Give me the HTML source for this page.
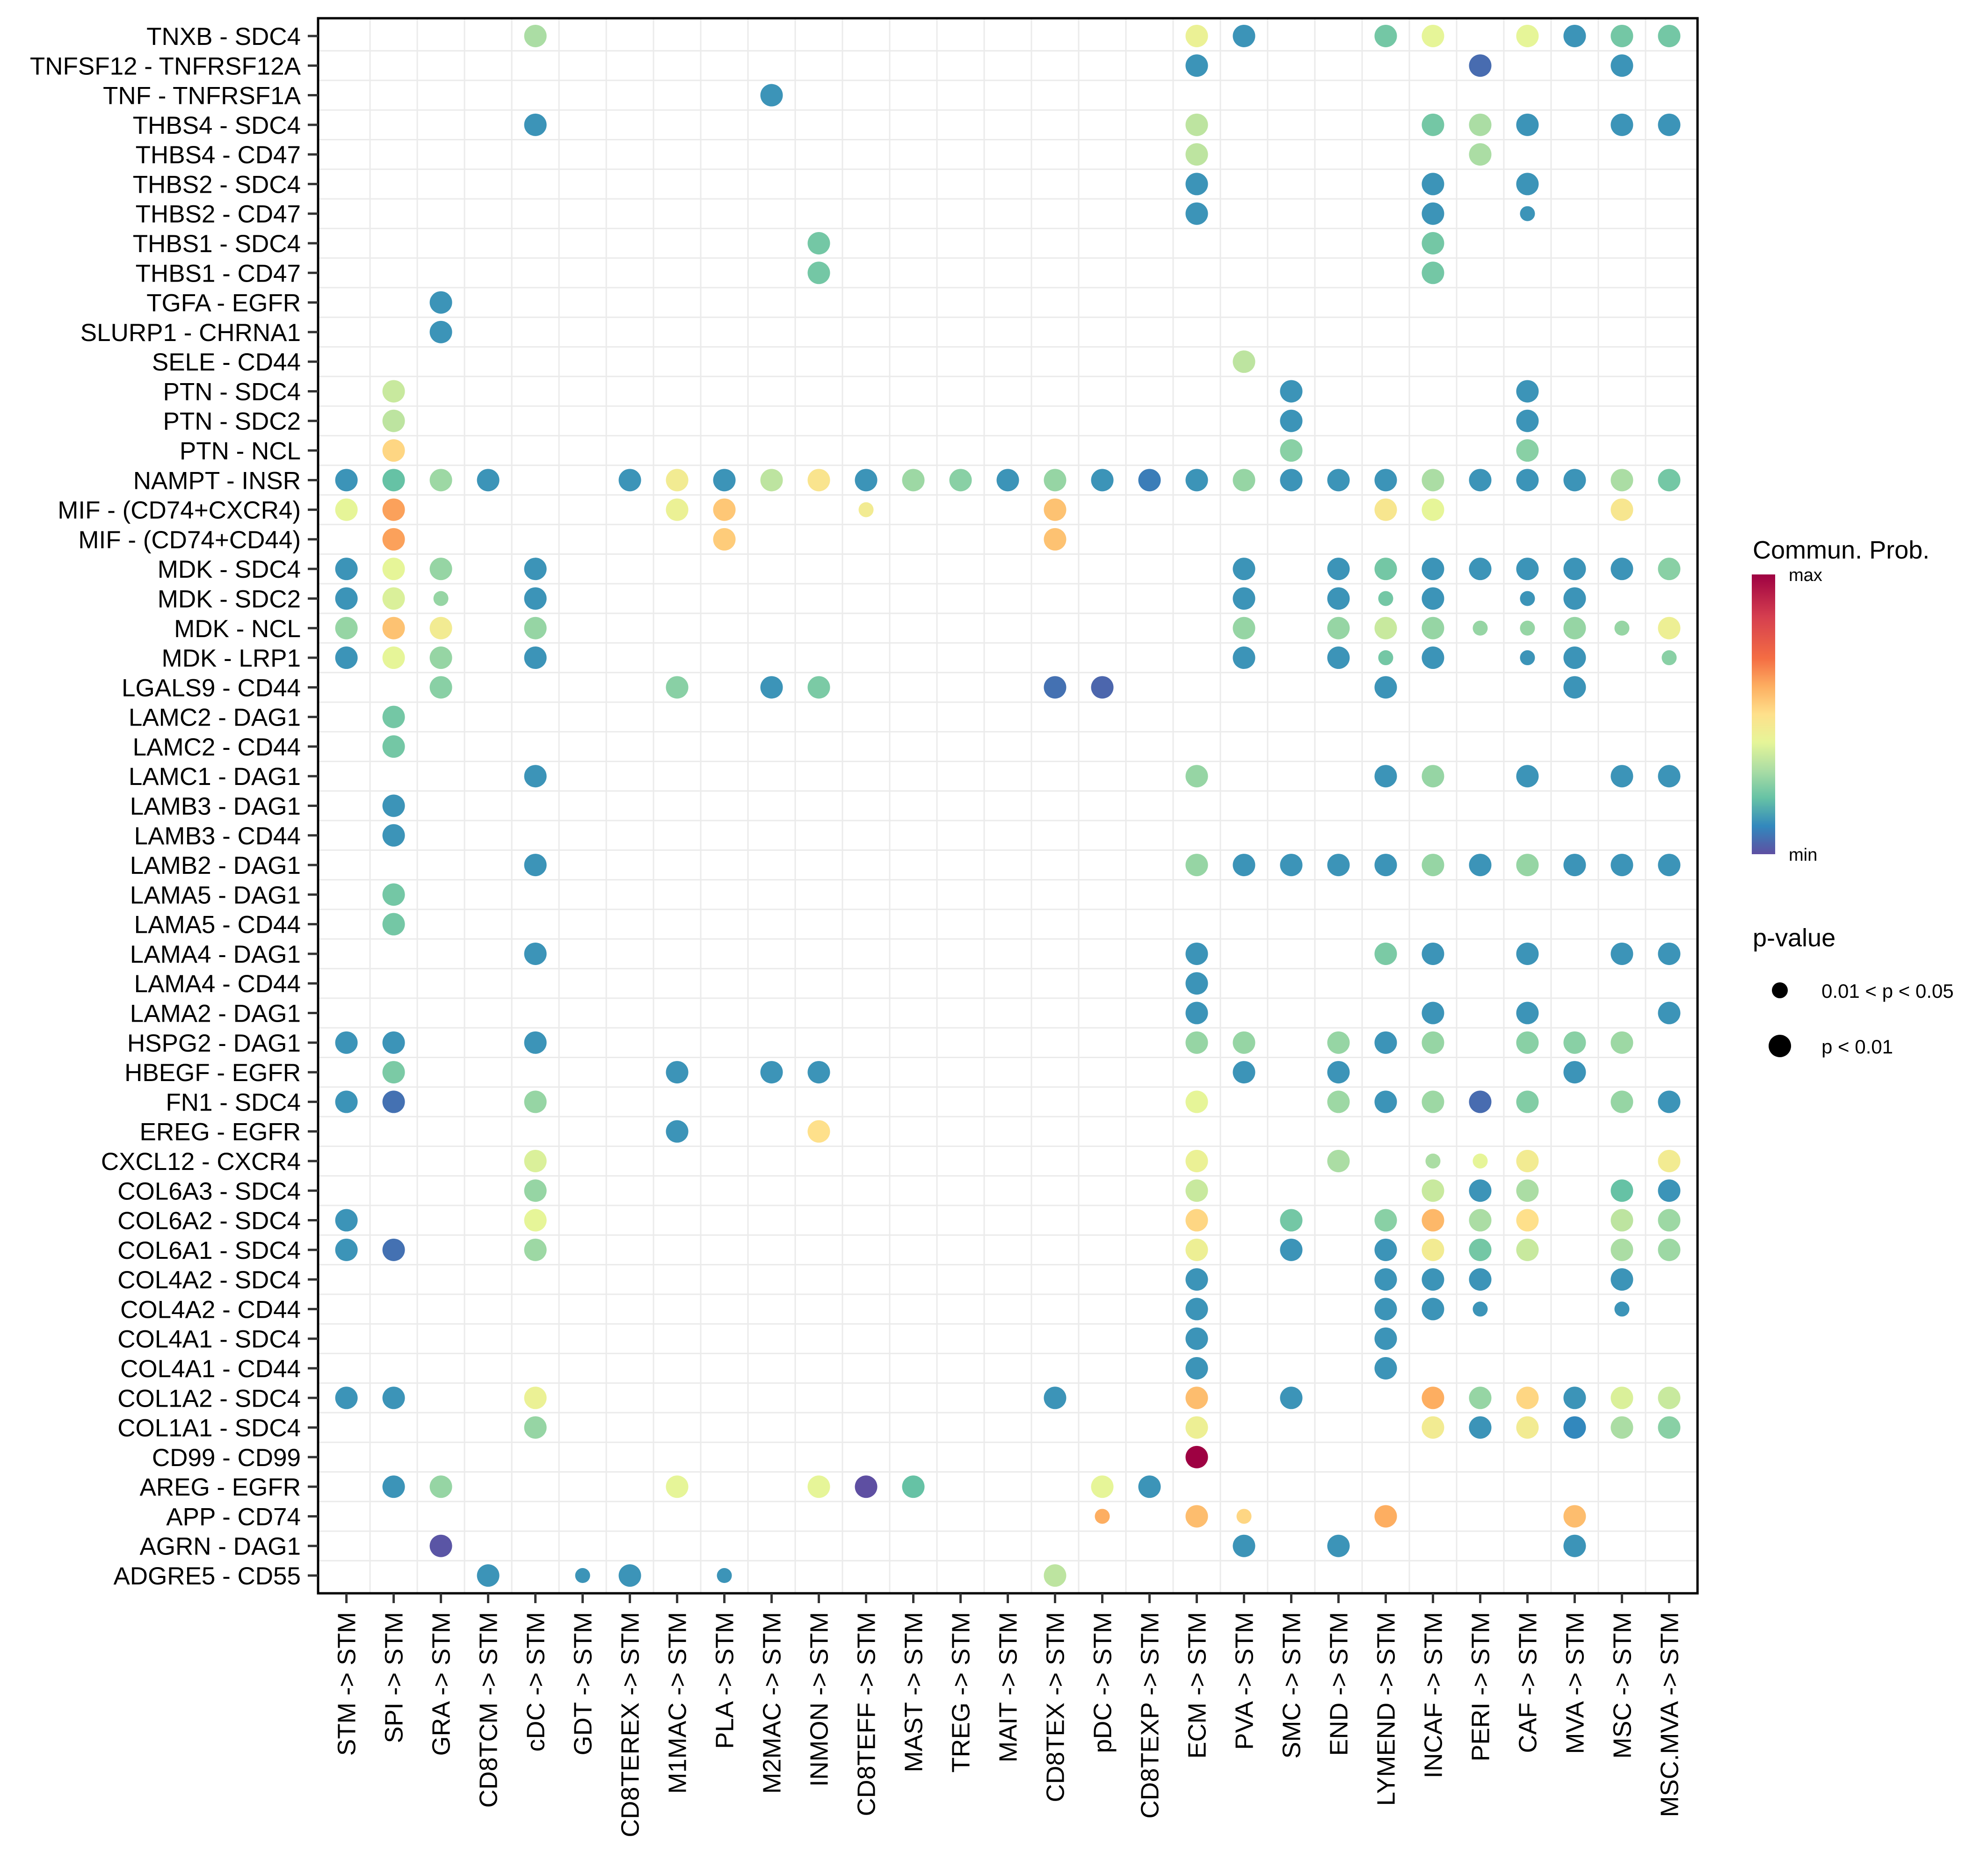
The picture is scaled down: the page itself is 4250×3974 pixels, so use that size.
<!DOCTYPE html>
<html><head><meta charset="utf-8"><style>html,body{margin:0;padding:0;background:#fff}svg{display:block}</style></head>
<body>
<svg id="chart" xmlns="http://www.w3.org/2000/svg" width="4250" height="3974" viewBox="0 0 4250 3974" font-family="Liberation Sans, Arial, sans-serif">
<rect x="0" y="0" width="4250" height="3974" fill="#fff"/>
<g id="grid"></g>
<g id="dots"></g>
<rect x="680" y="39" width="2949" height="3367" fill="none" stroke="#000" stroke-width="5"/>
<g id="yaxis"></g>
<g id="xaxis"></g>
<g>
<defs><linearGradient id="spec" x1="0" y1="1" x2="0" y2="0">
<stop offset="0" stop-color="#5E4FA2"/><stop offset="0.1" stop-color="#3288BD"/><stop offset="0.2" stop-color="#66C2A5"/><stop offset="0.3" stop-color="#ABDDA4"/><stop offset="0.4" stop-color="#E6F598"/><stop offset="0.5" stop-color="#FEE08B"/><stop offset="0.6" stop-color="#FDAE61"/><stop offset="0.7" stop-color="#F46D43"/><stop offset="0.85" stop-color="#D53E4F"/><stop offset="1" stop-color="#9E0142"/></linearGradient></defs>
<text x="3747" y="1194" font-size="54">Commun. Prob.</text>
<rect x="3745" y="1228" width="50" height="598" fill="url(#spec)"/>
<text x="3824" y="1242" font-size="38">max</text>
<text x="3824" y="1840" font-size="38">min</text>
</g>
<g>
<text x="3747" y="2023" font-size="54">p-value</text>
<circle cx="3805" cy="2117" r="17" fill="#000"/>
<text x="3894" y="2133" font-size="42">0.01 &lt; p &lt; 0.05</text>
<circle cx="3805" cy="2236" r="24" fill="#000"/>
<text x="3894" y="2252" font-size="42">p &lt; 0.01</text>
</g>
</svg>
<script>
const rowLabels = ["TNXB - SDC4","TNFSF12 - TNFRSF12A","TNF - TNFRSF1A","THBS4 - SDC4","THBS4 - CD47","THBS2 - SDC4","THBS2 - CD47","THBS1 - SDC4","THBS1 - CD47","TGFA - EGFR","SLURP1 - CHRNA1","SELE - CD44","PTN - SDC4","PTN - SDC2","PTN - NCL","NAMPT - INSR","MIF - (CD74+CXCR4)","MIF - (CD74+CD44)","MDK - SDC4","MDK - SDC2","MDK - NCL","MDK - LRP1","LGALS9 - CD44","LAMC2 - DAG1","LAMC2 - CD44","LAMC1 - DAG1","LAMB3 - DAG1","LAMB3 - CD44","LAMB2 - DAG1","LAMA5 - DAG1","LAMA5 - CD44","LAMA4 - DAG1","LAMA4 - CD44","LAMA2 - DAG1","HSPG2 - DAG1","HBEGF - EGFR","FN1 - SDC4","EREG - EGFR","CXCL12 - CXCR4","COL6A3 - SDC4","COL6A2 - SDC4","COL6A1 - SDC4","COL4A2 - SDC4","COL4A2 - CD44","COL4A1 - SDC4","COL4A1 - CD44","COL1A2 - SDC4","COL1A1 - SDC4","CD99 - CD99","AREG - EGFR","APP - CD74","AGRN - DAG1","ADGRE5 - CD55"];
const colLabels = ["STM","SPI","GRA","CD8TCM","cDC","GDT","CD8TEREX","M1MAC","PLA","M2MAC","INMON","CD8TEFF","MAST","TREG","MAIT","CD8TEX","pDC","CD8TEXP","ECM","PVA","SMC","END","LYMEND","INCAF","PERI","CAF","MVA","MSC","MSC.MVA"].map(s=>s+" -> STM");
// [row, col, probability(0-1 scaled), significant p<0.01 (1) or 0.01<p<0.05 (0)]
const dotData = [
[0,4,.3,1],[0,18,.42,1],[0,19,.12,1],[0,22,.22,1],[0,23,.4,1],[0,25,.4,1],[0,26,.12,1],[0,27,.22,1],[0,28,.22,1],
[1,18,.12,1],[1,24,.05,1],[1,27,.12,1],
[2,9,.12,1],
[3,4,.12,1],[3,18,.33,1],[3,23,.22,1],[3,24,.3,1],[3,25,.12,1],[3,27,.12,1],[3,28,.12,1],
[4,18,.33,1],[4,24,.3,1],
[5,18,.12,1],[5,23,.12,1],[5,25,.12,1],
[6,18,.12,1],[6,23,.12,1],[6,25,.12,0],
[7,10,.22,1],[7,23,.22,1],
[8,10,.22,1],[8,23,.22,1],
[9,2,.12,1],[10,2,.12,1],[11,19,.33,1],
[12,1,.35,1],[12,20,.12,1],[12,25,.12,1],
[13,1,.33,1],[13,20,.12,1],[13,25,.12,1],
[14,1,.52,1],[14,20,.25,1],[14,25,.25,1],
[15,0,.12,1],[15,1,.2,1],[15,2,.28,1],[15,3,.12,1],[15,6,.12,1],[15,7,.45,1],[15,8,.12,1],[15,9,.33,1],[15,10,.48,1],[15,11,.12,1],[15,12,.28,1],[15,13,.25,1],[15,14,.12,1],[15,15,.27,1],[15,16,.12,1],[15,17,.08,1],[15,18,.12,1],[15,19,.27,1],[15,20,.12,1],[15,21,.12,1],[15,22,.12,1],[15,23,.3,1],[15,24,.12,1],[15,25,.12,1],[15,26,.12,1],[15,27,.3,1],[15,28,.22,1],
[16,0,.4,1],[16,1,.62,1],[16,7,.42,1],[16,8,.55,1],[16,11,.45,0],[16,15,.56,1],[16,22,.47,1],[16,23,.4,1],[16,27,.47,1],
[17,1,.62,1],[17,8,.54,1],[17,15,.56,1],
[18,0,.12,1],[18,1,.4,1],[18,2,.27,1],[18,4,.12,1],[18,19,.12,1],[18,21,.12,1],[18,22,.22,1],[18,23,.12,1],[18,24,.12,1],[18,25,.12,1],[18,26,.12,1],[18,27,.12,1],[18,28,.25,1],
[19,0,.12,1],[19,1,.38,1],[19,2,.27,0],[19,4,.12,1],[19,19,.12,1],[19,21,.12,1],[19,22,.22,0],[19,23,.12,1],[19,25,.12,0],[19,26,.12,1],
[20,0,.27,1],[20,1,.56,1],[20,2,.45,1],[20,4,.27,1],[20,19,.27,1],[20,21,.27,1],[20,22,.35,1],[20,23,.27,1],[20,24,.27,0],[20,25,.27,0],[20,26,.27,1],[20,27,.27,0],[20,28,.43,1],
[21,0,.12,1],[21,1,.4,1],[21,2,.27,1],[21,4,.12,1],[21,19,.12,1],[21,21,.12,1],[21,22,.22,0],[21,23,.12,1],[21,25,.12,0],[21,26,.12,1],[21,28,.25,0],
[22,2,.25,1],[22,7,.25,1],[22,9,.12,1],[22,10,.23,1],[22,15,.06,1],[22,16,.04,1],[22,22,.12,1],[22,26,.12,1],
[23,1,.22,1],[24,1,.22,1],
[25,4,.12,1],[25,18,.27,1],[25,22,.12,1],[25,23,.27,1],[25,25,.12,1],[25,27,.12,1],[25,28,.12,1],
[26,1,.12,1],[27,1,.12,1],
[28,4,.12,1],[28,18,.27,1],[28,19,.12,1],[28,20,.12,1],[28,21,.12,1],[28,22,.12,1],[28,23,.27,1],[28,24,.12,1],[28,25,.27,1],[28,26,.12,1],[28,27,.12,1],[28,28,.12,1],
[29,1,.22,1],[30,1,.22,1],
[31,4,.12,1],[31,18,.12,1],[31,22,.23,1],[31,23,.12,1],[31,25,.12,1],[31,27,.12,1],[31,28,.12,1],
[32,18,.12,1],
[33,18,.12,1],[33,23,.12,1],[33,25,.12,1],[33,28,.12,1],
[34,0,.12,1],[34,1,.12,1],[34,4,.12,1],[34,18,.27,1],[34,19,.27,1],[34,21,.27,1],[34,22,.12,1],[34,23,.27,1],[34,25,.25,1],[34,26,.25,1],[34,27,.28,1],
[35,1,.23,1],[35,7,.12,1],[35,9,.12,1],[35,10,.12,1],[35,19,.12,1],[35,21,.12,1],[35,26,.12,1],
[36,0,.12,1],[36,1,.06,1],[36,4,.27,1],[36,18,.4,1],[36,21,.28,1],[36,22,.12,1],[36,23,.28,1],[36,24,.05,1],[36,25,.24,1],[36,27,.27,1],[36,28,.12,1],
[37,7,.12,1],[37,10,.5,1],
[38,4,.38,1],[38,18,.42,1],[38,21,.3,1],[38,23,.3,0],[38,24,.4,0],[38,25,.45,1],[38,28,.45,1],
[39,4,.27,1],[39,18,.35,1],[39,23,.35,1],[39,24,.12,1],[39,25,.3,1],[39,27,.2,1],[39,28,.12,1],
[40,0,.12,1],[40,4,.4,1],[40,18,.52,1],[40,20,.22,1],[40,22,.25,1],[40,23,.58,1],[40,24,.3,1],[40,25,.5,1],[40,27,.33,1],[40,28,.28,1],
[41,0,.12,1],[41,1,.06,1],[41,4,.28,1],[41,18,.43,1],[41,20,.12,1],[41,22,.12,1],[41,23,.45,1],[41,24,.22,1],[41,25,.35,1],[41,27,.3,1],[41,28,.28,1],
[42,18,.12,1],[42,22,.12,1],[42,23,.12,1],[42,24,.12,1],[42,27,.12,1],
[43,18,.12,1],[43,22,.12,1],[43,23,.12,1],[43,24,.12,0],[43,27,.12,0],
[44,18,.12,1],[44,22,.12,1],
[45,18,.12,1],[45,22,.12,1],
[46,0,.12,1],[46,1,.12,1],[46,4,.42,1],[46,15,.12,1],[46,18,.57,1],[46,20,.12,1],[46,23,.6,1],[46,24,.27,1],[46,25,.52,1],[46,26,.12,1],[46,27,.38,1],[46,28,.35,1],
[47,4,.27,1],[47,18,.43,1],[47,23,.45,1],[47,24,.12,1],[47,25,.45,1],[47,26,.1,1],[47,27,.3,1],[47,28,.25,1],
[48,18,1.0,1],
[49,1,.12,1],[49,2,.27,1],[49,7,.4,1],[49,10,.4,1],[49,11,.0,1],[49,12,.2,1],[49,16,.4,1],[49,17,.12,1],
[50,16,.6,0],[50,18,.57,1],[50,19,.52,0],[50,22,.6,1],[50,26,.57,1],
[51,2,.01,1],[51,19,.12,1],[51,21,.12,1],[51,26,.12,1],
[52,3,.12,1],[52,5,.12,0],[52,6,.12,1],[52,8,.12,0],[52,15,.33,1]
];
const NS="http://www.w3.org/2000/svg";
const PL=680,PR=3629,PT=39,PB=3406;
const xs=i=>PL+(i+0.6)*(PR-PL)/(colLabels.length-1+1.2);
const ys=j=>PT+(j+0.6)*(PB-PT)/(rowLabels.length-1+1.2);
const stops=[[0,"#5E4FA2"],[.1,"#3288BD"],[.2,"#66C2A5"],[.3,"#ABDDA4"],[.4,"#E6F598"],[.5,"#FEE08B"],[.6,"#FDAE61"],[.7,"#F46D43"],[.85,"#D53E4F"],[1,"#9E0142"]];
function hx(h){return [1,3,5].map(k=>parseInt(h.substr(k,2),16));}
function color(v){for(let k=1;k<stops.length;k++){if(v<=stops[k][0]){const a=stops[k-1],b=stops[k];const t=(v-a[0])/(b[0]-a[0]);const ca=hx(a[1]),cb=hx(b[1]);return "rgb("+ca.map((c,i)=>Math.round(c+(cb[i]-c)*t)).join(",")+")";}}return stops[stops.length-1][1];}
function mk(tag,attrs,parent){const e=document.createElementNS(NS,tag);for(const k in attrs)e.setAttribute(k,attrs[k]);parent.appendChild(e);return e;}
const grid=document.getElementById('grid');
for(let i=0;i<colLabels.length-1;i++){const x=(xs(i)+xs(i+1))/2;const l=mk('line',{x1:x,x2:x,y1:PT,y2:PB,stroke:'#EBEBEB','stroke-width':3},grid);}
for(let j=0;j<rowLabels.length-1;j++){const y=(ys(j)+ys(j+1))/2;const l=mk('line',{x1:PL,x2:PR,y1:y,y2:y,stroke:'#EBEBEB','stroke-width':3},grid);}
const yax=document.getElementById('yaxis');
rowLabels.forEach((s,j)=>{const y=ys(j);
const t=mk('line',{x1:658,x2:680,y1:y,y2:y,stroke:'#333','stroke-width':5},yax);
const tx=mk('text',{x:643,y:y+19,'font-size':53,'text-anchor':'end',fill:'#000'},yax);tx.textContent=s;});
const xax=document.getElementById('xaxis');
colLabels.forEach((s,i)=>{const x=xs(i);
const t=mk('line',{x1:x,x2:x,y1:PB,y2:PB+21,stroke:'#333','stroke-width':5},xax);
const tx=mk('text',{x:0,y:0,'font-size':54,'text-anchor':'end',fill:'#000',transform:`translate(${x+19},${PB+40}) rotate(-90)`},xax);tx.textContent=s;});
const dg=document.getElementById('dots');
dotData.forEach(d=>{const c=mk('circle',{cx:xs(d[1]),cy:ys(d[0]),r:d[3]?24:16,fill:color(d[2])},dg);

});
</script>
</body></html>
